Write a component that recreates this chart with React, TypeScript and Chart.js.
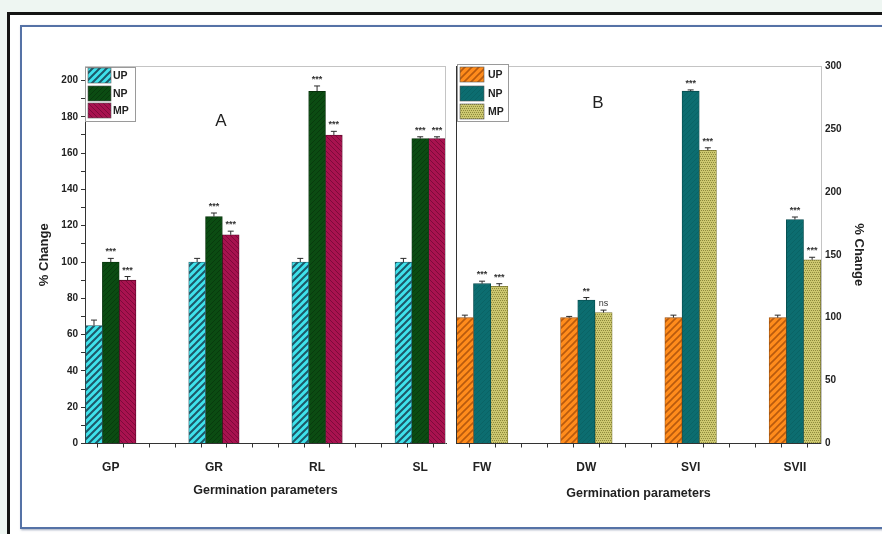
import React, { useEffect, useRef } from 'react';
import { Chart, registerables } from 'chart.js';
Chart.register(...registerables);

const seriesNames = ['UP', 'NP', 'MP'];

const categoriesA = ['GP', 'GR', 'RL', 'SL'];
const upA = [65, 100, 100, 100];
const npA = [100, 125, 194, 168];
const mpA = [90, 115, 170, 168];
const errUpA = [3, 2, 2, 2];
const errNpA = [2, 2, 3, 1];
const errMpA = [2, 2, 2, 1];
const sigUpA = ['', '', '', ''];
const sigNpA = ['***', '***', '***', '***'];
const sigMpA = ['***', '***', '***', '***'];
const yTickLabelsA = [0, 20, 40, 60, 80, 100, 120, 140, 160, 180, 200];

const categoriesB = ['FW', 'DW', 'SVI', 'SVII'];
const upB = [100, 100, 100, 100];
const npB = [127, 114, 280, 178];
const mpB = [125, 104, 233, 146];
const errUpB = [2, 1, 2, 2];
const errNpB = [2, 2, 1, 2];
const errMpB = [2, 2, 2, 2];
const sigUpB = ['', '', '', ''];
const sigNpB = ['***', '**', '***', '***'];
const sigMpB = ['***', 'ns', '***', '***'];
const yTickLabelsB = [0, 50, 100, 150, 200, 250, 300];

const FONT = "'Liberation Sans', Arial, sans-serif";

function makePattern(bg: string, fg: string, kind: string, size: number, lw: number) {
  const c = document.createElement('canvas');
  c.width = size;
  c.height = size;
  const g = c.getContext('2d')!;
  g.fillStyle = bg;
  g.fillRect(0, 0, size, size);
  g.strokeStyle = fg;
  g.fillStyle = fg;
  g.lineWidth = lw;
  if (kind === 'fwd') {
    g.beginPath();
    g.moveTo(-1, size + 1); g.lineTo(size + 1, -1);
    g.moveTo(-size / 2 - 1, size / 2 + 1); g.lineTo(size / 2 + 1, -size / 2 - 1);
    g.moveTo(size / 2 - 1, size * 1.5 + 1); g.lineTo(size * 1.5 + 1, size / 2 - 1);
    g.stroke();
  } else if (kind === 'back') {
    g.beginPath();
    g.moveTo(-1, -1); g.lineTo(size + 1, size + 1);
    g.moveTo(size / 2 - 1, -size / 2 - 1); g.lineTo(size * 1.5 + 1, size / 2 + 1);
    g.moveTo(-size / 2 - 1, size / 2 - 1); g.lineTo(size / 2 + 1, size * 1.5 + 1);
    g.stroke();
  } else if (kind === 'dots') {
    for (let y = 0; y < size; y += 2) {
      for (let x = (y / 2) % 2; x < size; x += 2) {
        g.fillRect(x, y, 1, 1);
      }
    }
  }
  return g.createPattern(c, 'repeat')!;
}

type PanelCfg = {
  errs: number[][];
  sigs: string[][];
  letter: string;
  letterX: number;
  letterY: number;
  legendBox: { x: number; y: number; w: number; h: number; sx: number; sw: number; sh: number; ys: number[]; lx: number };
  side: 'A' | 'B';
};

function makePlugin(cfg: PanelCfg) {
  return {
    id: 'panel' + cfg.side,
    afterDatasetsDraw(chart: any) {
      const ctx = chart.ctx;
      const ca = chart.chartArea;
      const yScale = chart.scales.y;
      ctx.save();
      ctx.strokeStyle = '#c4c4c4';
      ctx.lineWidth = 1;
      ctx.beginPath();
      ctx.moveTo(ca.left, ca.top + 0.5);
      ctx.lineTo(ca.right, ca.top + 0.5);
      if (cfg.side === 'A') {
        ctx.moveTo(ca.right - 0.5, ca.top);
        ctx.lineTo(ca.right - 0.5, ca.bottom);
      }
      ctx.stroke();
      if (cfg.side === 'B') {
        ctx.strokeStyle = '#333';
        ctx.beginPath();
        ctx.moveTo(ca.left + 0.5, ca.top);
        ctx.lineTo(ca.left + 0.5, ca.bottom);
        ctx.stroke();
      }
      chart.data.datasets.forEach((ds: any, di: number) => {
        const meta = chart.getDatasetMeta(di);
        meta.data.forEach((bar: any, i: number) => {
          const v = ds.data[i].y;
          const e = cfg.errs[di][i];
          const yTop = yScale.getPixelForValue(v + e);
          const yBar = yScale.getPixelForValue(v);
          const x = bar.x;
          ctx.strokeStyle = '#2a2a2a';
          ctx.lineWidth = 1;
          ctx.beginPath();
          ctx.moveTo(x, yBar);
          ctx.lineTo(x, yTop);
          ctx.moveTo(x - 3, yTop);
          ctx.lineTo(x + 3, yTop);
          ctx.stroke();
          const s = cfg.sigs[di][i];
          if (s) {
            ctx.fillStyle = '#333';
            ctx.textAlign = 'center';
            ctx.textBaseline = 'bottom';
            ctx.font = (s === 'ns' ? '' : 'bold ') + '9px ' + FONT;
            ctx.fillText(s, x, yTop - 2);
          }
        });
      });
      const lb = cfg.legendBox;
      ctx.fillStyle = '#ffffff';
      ctx.fillRect(lb.x, lb.y, lb.w, lb.h);
      ctx.strokeStyle = '#9a9a9a';
      ctx.lineWidth = 1;
      ctx.strokeRect(lb.x + 0.5, lb.y + 0.5, lb.w, lb.h);
      chart.data.datasets.forEach((ds: any, di: number) => {
        const y = lb.ys[di];
        ctx.fillStyle = ds.backgroundColor;
        ctx.fillRect(lb.sx, y, lb.sw, lb.sh);
        ctx.strokeStyle = '#555';
        ctx.lineWidth = 0.6;
        ctx.strokeRect(lb.sx, y, lb.sw, lb.sh);
        ctx.fillStyle = '#222';
        ctx.font = 'bold 10.5px ' + FONT;
        ctx.textAlign = 'left';
        ctx.textBaseline = 'middle';
        ctx.fillText(ds.label, lb.lx, y + lb.sh / 2 + 0.5);
      });
      ctx.fillStyle = '#222';
      ctx.font = '17px ' + FONT;
      ctx.textAlign = 'center';
      ctx.textBaseline = 'middle';
      ctx.fillText(cfg.letter, cfg.letterX, cfg.letterY);
      ctx.restore();
    },
  };
}

function isInt(v: number) {
  return Math.abs(v - Math.round(v)) < 1e-6;
}

export default function App() {
  const refA = useRef<HTMLCanvasElement>(null);
  const refB = useRef<HTMLCanvasElement>(null);

  useEffect(() => {
    const ctxA = refA.current!.getContext('2d')!;
    const ctxB = refB.current!.getContext('2d')!;

    const fillsA = [
      makePattern('#3fe2ec', '#1d5868', 'fwd', 7, 2),
      makePattern('#0b4c12', '#083a0d', 'fwd', 5, 1),
      makePattern('#a8124f', '#7d0a3a', 'back', 5, 1),
    ];
    const fillsB = [
      makePattern('#ff8c1c', '#b85a0e', 'fwd', 7, 1.6),
      makePattern('#0c6d70', '#0a5c5e', 'fwd', 5, 0.6),
      makePattern('#cdc870', '#8e8a3c', 'dots', 8, 1),
    ];
    const bordersA = ['#245a66', '#06300a', '#5a0628'];
    const bordersB = ['#9a5010', '#064a4c', '#7a7630'];

    const seriesA = [upA, npA, mpA];
    const seriesB = [upB, npB, mpB];

    const mkDatasets = (series: number[][], fills: any[], borders: string[], thick: number) =>
      series.map((vals, si) => ({
        label: seriesNames[si],
        data: vals.map((v, i) => ({ x: i, y: v })),
        backgroundColor: fills[si],
        borderColor: borders[si],
        borderWidth: 0.8,
        barThickness: thick,
      }));

    const tickFont = { family: FONT, size: 10, weight: 'bold' as const };
    const catFont = { family: FONT, size: 12, weight: 'bold' as const };
    const titleFont = { family: FONT, size: 12.5, weight: 'bold' as const };
    const yTitleFont = { family: FONT, size: 13, weight: 'bold' as const };

    const xScale = (cats: string[], h: number) => ({
      type: 'linear' as const,
      min: -0.25,
      max: 3.25,
      offset: false,
      afterFit: (s: any) => { s.height = h; },
      ticks: {
        stepSize: 0.25,
        includeBounds: false,
        autoSkip: false,
        maxRotation: 0,
        padding: 13,
        color: '#222',
        font: catFont,
        callback: (v: any) => (isInt(v) ? cats[Math.round(v)] ?? '' : ''),
      },
      grid: { drawOnChartArea: false, drawTicks: true, tickLength: 4, color: '#333' },
      border: { color: '#333', width: 1 },
      title: {
        display: true,
        text: 'Germination parameters',
        color: '#222',
        font: titleFont,
        padding: { top: 2, bottom: 0 },
      },
    });

    const chartA = new Chart(ctxA, {
      type: 'bar',
      data: { datasets: mkDatasets(seriesA, fillsA, bordersA, 16.8) as any },
      options: {
        responsive: false,
        animation: false,
        layout: { padding: { left: 35, right: 436, top: 66, bottom: 36 } },
        plugins: { legend: { display: false }, tooltip: { enabled: false } },
        scales: {
          x: xScale(categoriesA, 54.5) as any,
          y: {
            min: 0,
            max: 208,
            afterFit: (s: any) => { s.width = 50; },
            ticks: {
              stepSize: 10,
              includeBounds: false,
              autoSkip: false,
              padding: 3,
              color: '#222',
              font: tickFont,
              callback: (v: any) => (yTickLabelsA.includes(Math.round(v)) && isInt(v / 20) ? String(Math.round(v)) : ''),
            },
            grid: { drawOnChartArea: false, drawTicks: true, tickLength: 4, color: '#333' },
            border: { color: '#333', width: 1 },
            title: { display: true, text: '% Change', color: '#222', font: yTitleFont, padding: { top: 2, bottom: 0 } },
          },
        },
      },
      plugins: [
        makePlugin({
          errs: [errUpA, errNpA, errMpA],
          sigs: [sigUpA, sigNpA, sigMpA],
          letter: 'A',
          letterX: 221,
          letterY: 121,
          legendBox: { x: 85, y: 67, w: 50, h: 54, sx: 88, sw: 23, sh: 15, ys: [68, 86, 103], lx: 113 },
          side: 'A',
        }),
      ],
    });

    const chartB = new Chart(ctxB, {
      type: 'bar',
      data: { datasets: mkDatasets(seriesB, fillsB, bordersB, 17.2) as any },
      options: {
        responsive: false,
        animation: false,
        layout: { padding: { left: 456, right: 16, top: 66, bottom: 33 } },
        plugins: { legend: { display: false }, tooltip: { enabled: false } },
        scales: {
          x: xScale(categoriesB, 57.5) as any,
          y: {
            position: 'right',
            min: 0,
            max: 300,
            afterFit: (s: any) => { s.width = 45; },
            ticks: {
              stepSize: 50,
              autoSkip: false,
              padding: 4,
              color: '#222',
              font: tickFont,
              callback: (v: any) => (yTickLabelsB.includes(Math.round(v)) ? String(Math.round(v)) : ''),
            },
            grid: { drawOnChartArea: false, drawTicks: false, color: '#bbb' },
            border: { color: '#c4c4c4', width: 1 },
            title: { display: true, text: '% Change', color: '#222', font: yTitleFont, padding: { top: 0, bottom: 0 } },
          },
        },
      },
      plugins: [
        makePlugin({
          errs: [errUpB, errNpB, errMpB],
          sigs: [sigUpB, sigNpB, sigMpB],
          letter: 'B',
          letterX: 598,
          letterY: 103,
          legendBox: { x: 457, y: 64, w: 51, h: 57, sx: 460, sw: 24, sh: 15, ys: [67, 86, 104], lx: 488 },
          side: 'B',
        }),
      ],
    });

    return () => {
      chartA.destroy();
      chartB.destroy();
    };
  }, []);

  return (
    <div style={{ position: 'fixed', left: 0, top: 0, width: 882, height: 534, background: '#eef6f2', overflow: 'hidden' }}>
      <div style={{ position: 'absolute', left: 7, top: 12, width: 900, height: 540, border: '3px solid #141414', background: '#ffffff', boxSizing: 'border-box' }} />
      <div style={{ position: 'absolute', left: 20, top: 25, width: 900, height: 504, border: '2px solid #5572a6', boxShadow: '1px 1px 2px rgba(60,80,120,0.5)', background: '#ffffff', boxSizing: 'border-box' }} />
      <canvas ref={refA} width={882} height={534} style={{ position: 'absolute', left: 0, top: 0, width: 882, height: 534 }} />
      <canvas ref={refB} width={882} height={534} style={{ position: 'absolute', left: 0, top: 0, width: 882, height: 534 }} />
    </div>
  );
}
